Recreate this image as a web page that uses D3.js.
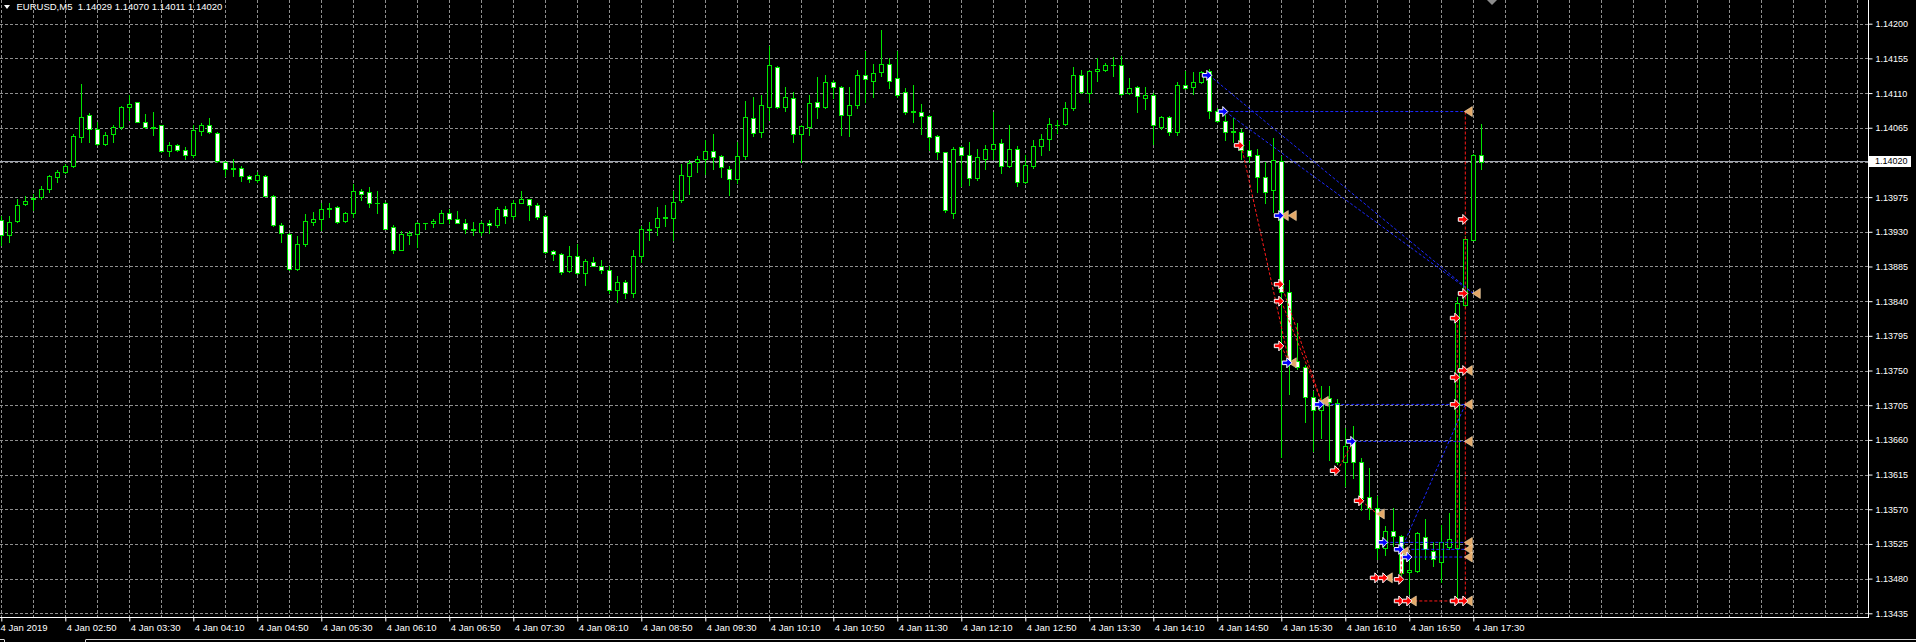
<!DOCTYPE html>
<html><head><meta charset="utf-8">
<script src="https://cdn.jsdelivr.net/npm/d3@7"></script>
<style>html,body{margin:0;padding:0;background:#000;overflow:hidden}svg{display:block}</style>
</head><body><svg id="c" width="1916" height="642"></svg>
<script>
const symbolTitle = "EURUSD,M5  1.14029 1.14070 1.14011 1.14020";
const bidPrice = 1.14020;
const timeLabels = ["4 Jan 2019","4 Jan 02:50","4 Jan 03:30","4 Jan 04:10","4 Jan 04:50","4 Jan 05:30","4 Jan 06:10","4 Jan 06:50","4 Jan 07:30","4 Jan 08:10","4 Jan 08:50","4 Jan 09:30","4 Jan 10:10","4 Jan 10:50","4 Jan 11:30","4 Jan 12:10","4 Jan 12:50","4 Jan 13:30","4 Jan 14:10","4 Jan 14:50","4 Jan 15:30","4 Jan 16:10","4 Jan 16:50","4 Jan 17:30"];
const priceTicks = ["1.14200","1.14155","1.14110","1.14065","1.14020","1.13975","1.13930","1.13885","1.13840","1.13795","1.13750","1.13705","1.13660","1.13615","1.13570","1.13525","1.13480","1.13435"];

const opens = [1.13945,1.13926,1.13944,1.13966,1.13972,1.13975,1.13986,1.14001,1.14008,1.14015,1.14053,1.14082,1.14063,1.14044,1.14057,1.14066,1.14092,1.14098,1.14073,1.14066,
1.14068,1.14035,1.14042,1.14036,1.14030,1.14061,1.14068,1.14058,1.14020,1.14013,1.14013,1.14002,1.13997,1.14002,1.13976,1.13939,1.13927,1.13882,1.13914,1.13943,
1.13946,1.13961,1.13962,1.13944,1.13955,1.13983,1.13981,1.13968,1.13968,1.13936,1.13907,1.13926,1.13927,1.13941,1.13941,1.13942,1.13955,1.13946,1.13942,1.13932,
1.13930,1.13942,1.13939,1.13959,1.13951,1.13968,1.13972,1.13965,1.13951,1.13905,1.13901,1.13879,1.13899,1.13876,1.13891,1.13885,1.13881,1.13855,1.13865,1.13850,
1.13899,1.13933,1.13936,1.13948,1.13948,1.13971,1.14003,1.14020,1.14025,1.14035,1.14028,1.14012,1.13999,1.14028,1.14078,1.14060,1.14092,1.14144,1.14092,1.14103,
1.14057,1.14066,1.14098,1.14092,1.14125,1.14118,1.14082,1.14095,1.14134,1.14126,1.14137,1.14148,1.14129,1.14111,1.14087,1.14086,1.14080,1.14054,1.14033,1.13955,
1.14040,1.14029,1.14000,1.14025,1.14038,1.14045,1.14015,1.14038,1.13995,1.14015,1.14041,1.14051,1.14068,1.14070,1.14091,1.14134,1.14110,1.14138,1.14140,1.14147,
1.14146,1.14110,1.14118,1.14104,1.14108,1.14066,1.14079,1.14060,1.14121,1.14118,1.14125,1.14139,1.14087,1.14074,1.14061,1.14060,1.14036,1.14029,1.14001,1.13984,
1.14022,1.13852,1.13763,1.13754,1.13716,1.13699,1.13714,1.13708,1.13631,1.13658,1.13631,1.13586,1.13571,1.13520,1.13542,1.13535,1.13489,1.13490,1.13534,1.13516,
1.13502,1.13521,1.13520,1.13835,1.13920,1.14029];
const highs = [1.13950,1.13951,1.13973,1.13977,1.13979,1.13989,1.14004,1.14010,1.14018,1.14057,1.14122,1.14084,1.14073,1.14060,1.14069,1.14093,1.14108,1.14099,1.14083,1.14086,
1.14069,1.14046,1.14044,1.14040,1.14069,1.14071,1.14077,1.14059,1.14022,1.14025,1.14015,1.14004,1.14008,1.14004,1.13978,1.13941,1.13928,1.13924,1.13953,1.13956,
1.13968,1.13968,1.13963,1.13956,1.13992,1.13985,1.13988,1.13983,1.13969,1.13939,1.13931,1.13931,1.13943,1.13942,1.13947,1.13958,1.13960,1.13957,1.13946,1.13943,
1.13944,1.13945,1.13962,1.13963,1.13971,1.13983,1.13973,1.13967,1.13952,1.13907,1.13902,1.13911,1.13914,1.13895,1.13897,1.13894,1.13886,1.13873,1.13868,1.13907,
1.13938,1.13943,1.13962,1.13965,1.13983,1.14018,1.14023,1.14028,1.14049,1.14057,1.14030,1.14015,1.14046,1.14100,1.14105,1.14108,1.14171,1.14145,1.14118,1.14112,
1.14069,1.14108,1.14131,1.14134,1.14127,1.14119,1.14118,1.14140,1.14164,1.14148,1.14192,1.14156,1.14164,1.14116,1.14121,1.14096,1.14082,1.14055,1.14034,1.14040,
1.14041,1.14047,1.14038,1.14043,1.14086,1.14051,1.14069,1.14041,1.14030,1.14049,1.14057,1.14077,1.14075,1.14099,1.14144,1.14140,1.14140,1.14155,1.14149,1.14157,
1.14158,1.14129,1.14119,1.14118,1.14110,1.14080,1.14080,1.14124,1.14139,1.14137,1.14138,1.14141,1.14090,1.14081,1.14077,1.14063,1.14048,1.14038,1.14021,1.14052,
1.14028,1.13868,1.13812,1.13757,1.13724,1.13730,1.13730,1.13713,1.13675,1.13678,1.13636,1.13623,1.13587,1.13548,1.13572,1.13537,1.13509,1.13541,1.13558,1.13527,
1.13550,1.13565,1.13845,1.13924,1.14031,1.14070];
const lows = [1.13913,1.13917,1.13943,1.13965,1.13958,1.13973,1.13981,1.13995,1.14006,1.14014,1.14047,1.14047,1.14043,1.14043,1.14047,1.14064,1.14075,1.14072,1.14065,1.14055,
1.14034,1.14028,1.14035,1.14025,1.14027,1.14055,1.14058,1.14021,1.14002,1.14002,1.13996,1.13994,1.13995,1.13976,1.13938,1.13917,1.13880,1.13881,1.13911,1.13939,
1.13932,1.13949,1.13942,1.13943,1.13949,1.13971,1.13962,1.13955,1.13933,1.13902,1.13906,1.13914,1.13910,1.13934,1.13936,1.13941,1.13941,1.13941,1.13928,1.13926,
1.13926,1.13928,1.13936,1.13941,1.13947,1.13967,1.13945,1.13947,1.13902,1.13894,1.13875,1.13878,1.13875,1.13861,1.13885,1.13876,1.13851,1.13839,1.13844,1.13846,
1.13891,1.13919,1.13926,1.13938,1.13919,1.13969,1.13979,1.14008,1.14005,1.14012,1.14001,1.13978,1.13993,1.14025,1.14054,1.14053,1.14075,1.14090,1.14087,1.14047,
1.14021,1.14056,1.14077,1.14091,1.14103,1.14056,1.14054,1.14090,1.14098,1.14105,1.14132,1.14116,1.14105,1.14083,1.14073,1.14057,1.14036,1.14025,1.13956,1.13948,
1.13990,1.13991,1.13997,1.14012,1.14024,1.14006,1.14014,1.13990,1.13993,1.14013,1.14030,1.14036,1.14058,1.14068,1.14088,1.14110,1.14098,1.14126,1.14138,1.14132,
1.14108,1.14109,1.14085,1.14089,1.14044,1.14064,1.14056,1.14056,1.14115,1.14109,1.14123,1.14077,1.14072,1.14049,1.14046,1.14025,1.14021,1.13981,1.13968,1.13956,
1.13638,1.13720,1.13752,1.13683,1.13645,1.13662,1.13634,1.13629,1.13600,1.13610,1.13569,1.13557,1.13505,1.13511,1.13522,1.13485,1.13460,1.13489,1.13506,1.13497,
1.13476,1.13518,1.13451,1.13833,1.13919,1.14011];
const closes = [1.13926,1.13943,1.13965,1.13970,1.13974,1.13986,1.14002,1.14008,1.14016,1.14054,1.14079,1.14063,1.14044,1.14055,1.14066,1.14092,1.14096,1.14073,1.14066,1.14065,
1.14035,1.14043,1.14036,1.14030,1.14062,1.14069,1.14059,1.14022,1.14012,1.14012,1.14002,1.13999,1.14004,1.13977,1.13939,1.13928,1.13882,1.13914,1.13944,1.13946,
1.13960,1.13960,1.13943,1.13955,1.13983,1.13979,1.13968,1.13967,1.13934,1.13907,1.13927,1.13929,1.13941,1.13942,1.13944,1.13955,1.13946,1.13942,1.13933,1.13933,
1.13942,1.13939,1.13960,1.13951,1.13968,1.13973,1.13965,1.13949,1.13904,1.13901,1.13878,1.13898,1.13876,1.13892,1.13886,1.13881,1.13855,1.13865,1.13850,1.13899,
1.13933,1.13932,1.13948,1.13949,1.13969,1.14004,1.14019,1.14025,1.14035,1.14027,1.14014,1.13999,1.14028,1.14079,1.14058,1.14094,1.14146,1.14092,1.14105,1.14057,
1.14067,1.14097,1.14092,1.14125,1.14118,1.14082,1.14095,1.14134,1.14128,1.14136,1.14148,1.14126,1.14108,1.14086,1.14086,1.14080,1.14053,1.14033,1.13958,1.14038,
1.14029,1.14000,1.14027,1.14038,1.14044,1.14016,1.14038,1.13995,1.14017,1.14041,1.14051,1.14070,1.14069,1.14091,1.14134,1.14111,1.14138,1.14141,1.14147,1.14146,
1.14109,1.14116,1.14106,1.14108,1.14068,1.14079,1.14060,1.14120,1.14116,1.14125,1.14137,1.14087,1.14074,1.14059,1.14060,1.14036,1.14028,1.14001,1.13981,1.14023,
1.13852,1.13759,1.13754,1.13716,1.13699,1.13712,1.13709,1.13631,1.13652,1.13631,1.13585,1.13571,1.13520,1.13542,1.13535,1.13487,1.13491,1.13539,1.13519,1.13505,
1.13528,1.13532,1.13838,1.13921,1.14030,1.14020];

// trade history: [bar, price]
const buyArrows = [[151,1.14133],[153,1.14086],[160,1.13951],[161,1.13760],[165,1.13706],[169,1.13658],[173,1.13527],[175,1.13518],[176,1.13508]];
const sellArrows = [[155,1.14042],[160,1.13862],[160,1.13840],[160,1.13782],[167,1.13620],[170,1.13581],[172,1.13481],[173,1.13481],[175,1.13479],[175,1.13451],[176,1.13451],[182,1.13451],[183,1.13451],[182,1.13818],[182,1.13741],[182,1.13706],[183,1.13946],[183,1.13850],[183,1.13750]];
const closeMarks = [[160,1.13951],[161,1.13951],[161,1.13760],[165,1.13710],[172,1.13564],[173,1.13481],[175,1.13515],[176,1.13451],[183,1.13451],[183,1.14086],[184,1.13850],[183,1.13750],[183,1.13706],[183,1.13658],[183,1.13527],[183,1.13518],[183,1.13508]];
// [openBar, openPrice, closeBar, closePrice]
const buyLines = [[153,1.14086,183,1.14086],[151,1.14133,184,1.13850],[153,1.14086,184,1.13850],[165,1.13706,183,1.13706],[169,1.13658,183,1.13658],[173,1.13527,183,1.13527],[175,1.13518,183,1.13518],[176,1.13508,183,1.13508],[175,1.13518,183,1.13706]];
const sellLines = [[155,1.14042,161,1.13760],[160,1.13862,165,1.13710],[160,1.13840,165,1.13710],[160,1.13782,161,1.13760],[167,1.13620,169,1.13658],[170,1.13581,172,1.13564],[172,1.13481,173,1.13481],[175,1.13479,175,1.13515],[176,1.13451,182,1.13451],[183,1.14086,183,1.13451],[182,1.13520,182,1.13818]];

const FONT = '"Liberation Sans", Arial, sans-serif';
const FS = 9.5;
const svg = d3.select('#c');
const plotR = 1868, plotB = 617;
const x = d3.scaleLinear().domain([0, 233]).range([1.3, 1.3 + 8 * 233]);
const y = d3.scaleLinear().domain([1.13435, 1.14200]).range([613.3, 23.7]);
const cr = v => Math.round(v) + 0.5;

svg.append('rect').attr('width', 1916).attr('height', 642).attr('fill', '#000');
svg.append('defs').append('clipPath').attr('id', 'plot').append('rect').attr('x', 0).attr('y', 0).attr('width', plotR).attr('height', plotB);
const plot = svg.append('g').attr('clip-path', 'url(#plot)');

// grid
const gridColor = '#8e8e8e';
plot.append('g').selectAll('line').data(priceTicks).join('line')
  .attr('x1', 0).attr('x2', plotR).attr('y1', d => cr(y(+d))).attr('y2', d => cr(y(+d)))
  .attr('stroke', gridColor).attr('stroke-width', 1).attr('stroke-dasharray', '3,2');
plot.append('g').selectAll('line').data(d3.range(0, 234, 4)).join('line')
  .attr('x1', d => cr(x(d))).attr('x2', d => cr(x(d))).attr('y1', 0).attr('y2', plotB)
  .attr('stroke', gridColor).attr('stroke-width', 1).attr('stroke-dasharray', '3,2');

// bid line
plot.append('line').attr('x1', 0).attr('x2', plotR).attr('y1', cr(y(bidPrice) - 1)).attr('y2', cr(y(bidPrice) - 1))
  .attr('stroke', '#a3a7b2').attr('stroke-width', 1);

// candles
const bars = opens.map((o, i) => ({ i, o, h: highs[i], l: lows[i], c: closes[i] }));
const GREEN = '#00e600';
plot.append('g').selectAll('line').data(bars).join('line')
  .attr('x1', d => cr(x(d.i))).attr('x2', d => cr(x(d.i)))
  .attr('y1', d => Math.round(y(d.h))).attr('y2', d => Math.round(y(d.l)) + 1)
  .attr('stroke', GREEN).attr('stroke-width', 1);
const bodies = plot.append('g');
bars.forEach(d => {
  const R = Math.round(x(d.i));
  const t = Math.round(y(Math.max(d.o, d.c))) + 0.5;
  const b = Math.round(y(Math.min(d.o, d.c))) + 0.5;
  if (b - t < 1) {
    bodies.append('line').attr('x1', R - 2).attr('x2', R + 3).attr('y1', t).attr('y2', t)
      .attr('stroke', GREEN).attr('stroke-width', 1);
  } else {
    bodies.append('rect').attr('x', R - 1.5).attr('y', t).attr('width', 4).attr('height', b - t)
      .attr('fill', d.c < d.o ? '#ffffff' : '#000000').attr('stroke', GREEN).attr('stroke-width', 1);
  }
});

// trade lines
const tl = plot.append('g');
tl.selectAll('line.b').data(buyLines).join('line')
  .attr('x1', d => x(d[0])).attr('y1', d => y(d[1])).attr('x2', d => x(d[2])).attr('y2', d => y(d[3]))
  .attr('stroke', '#1c28ff').attr('stroke-width', 1).attr('stroke-dasharray', '3,2');
tl.selectAll('line.s').data(sellLines).join('line')
  .attr('x1', d => x(d[0])).attr('y1', d => y(d[1])).attr('x2', d => x(d[2])).attr('y2', d => y(d[3]))
  .attr('stroke', '#ff1a1a').attr('stroke-width', 1).attr('stroke-dasharray', '3,2');

// arrows
const arrowPath = 'M-4.5,-1.8L0,-1.8L0,-5L5,0L0,5L0,1.8L-4.5,1.8Z';
const ag = plot.append('g');
ag.selectAll('path.close').data(closeMarks).join('path')
  .attr('d', 'M4,-5L-4,0L4,5Z')
  .attr('transform', d => `translate(${x(d[0]) + 3},${y(d[1])})`)
  .attr('fill', '#e3a868').attr('stroke', '#f4d8b0').attr('stroke-width', 0.6);
ag.selectAll('path.buy').data(buyArrows).join('path')
  .attr('d', arrowPath)
  .attr('transform', d => `translate(${x(d[0]) - 2.5},${y(d[1])})`)
  .attr('fill', '#0000ff').attr('stroke', '#ffffff').attr('stroke-width', 1);
ag.selectAll('path.sell').data(sellArrows).join('path')
  .attr('d', arrowPath)
  .attr('transform', d => `translate(${x(d[0]) - 2.5},${y(d[1])})`)
  .attr('fill', '#ff0000').attr('stroke', '#ffffff').attr('stroke-width', 1);

// borders
svg.append('line').attr('x1', plotR + 0.5).attr('x2', plotR + 0.5).attr('y1', 0).attr('y2', plotB + 1).attr('stroke', '#fff');
svg.append('line').attr('x1', 0).attr('x2', plotR + 1).attr('y1', plotB + 0.5).attr('y2', plotB + 0.5).attr('stroke', '#fff');
svg.append('line').attr('x1', 86).attr('x2', 1916).attr('y1', 639.5).attr('y2', 639.5).attr('stroke', '#d8d8d8');
svg.append('line').attr('x1', 0).attr('x2', 4).attr('y1', 639.5).attr('y2', 639.5).attr('stroke', '#d8d8d8');
svg.append('line').attr('x1', 4.5).attr('x2', 4.5).attr('y1', 639.5).attr('y2', 642).attr('stroke', '#d8d8d8');
svg.append('line').attr('x1', 85.5).attr('x2', 85.5).attr('y1', 639.5).attr('y2', 642).attr('stroke', '#d8d8d8');

// price axis
const ay = svg.append('g').attr('transform', `translate(${plotR + 0.5},0)`)
  .call(d3.axisRight(y).tickValues(priceTicks.map(Number)).tickSize(4).tickSizeOuter(0).tickPadding(3).tickFormat((d, i) => priceTicks[i]));
ay.select('.domain').remove();
ay.selectAll('.tick line').attr('stroke', '#fff');
ay.selectAll('.tick text').attr('fill', '#fff').attr('font-family', FONT).attr('font-size', 9).attr('dy', '0.34em');

// time axis
const tickBars = d3.range(0, 185, 8);
const ax = svg.append('g').attr('transform', `translate(0,${plotB + 0.5})`)
  .call(d3.axisBottom(x).tickValues(tickBars).tickSize(4).tickSizeOuter(0).tickPadding(3).tickFormat((d, i) => timeLabels[i]));
ax.select('.domain').remove();
ax.selectAll('.tick line').attr('stroke', '#fff');
ax.selectAll('.tick text').attr('fill', '#fff').attr('font-family', FONT).attr('font-size', FS)
  .attr('text-anchor', 'start').attr('x', (d, i) => i === 0 ? -1.3 : 1);

// current price label
const by = y(bidPrice) - 1;
svg.append('rect').attr('x', plotR + 1).attr('y', Math.round(by) - 5).attr('width', 42).attr('height', 11).attr('fill', '#fff');
svg.append('text').attr('x', plotR + 7).attr('y', by).attr('dy', '0.34em').attr('fill', '#000')
  .attr('font-family', FONT).attr('font-size', 9).text(bidPrice.toFixed(5));

// header
svg.append('path').attr('d', 'M4,5L10,5L7,9Z').attr('fill', '#fff');
svg.append('text').attr('x', 16.5).attr('y', 10).attr('fill', '#fff').attr('font-family', FONT).attr('font-size', FS)
  .attr('xml:space', 'preserve').style('white-space', 'pre').text(symbolTitle);
// chart shift marker
svg.append('path').attr('d', 'M1487,0L1497,0L1492,5Z').attr('fill', '#8c8c8c');
</script>
</body></html>
